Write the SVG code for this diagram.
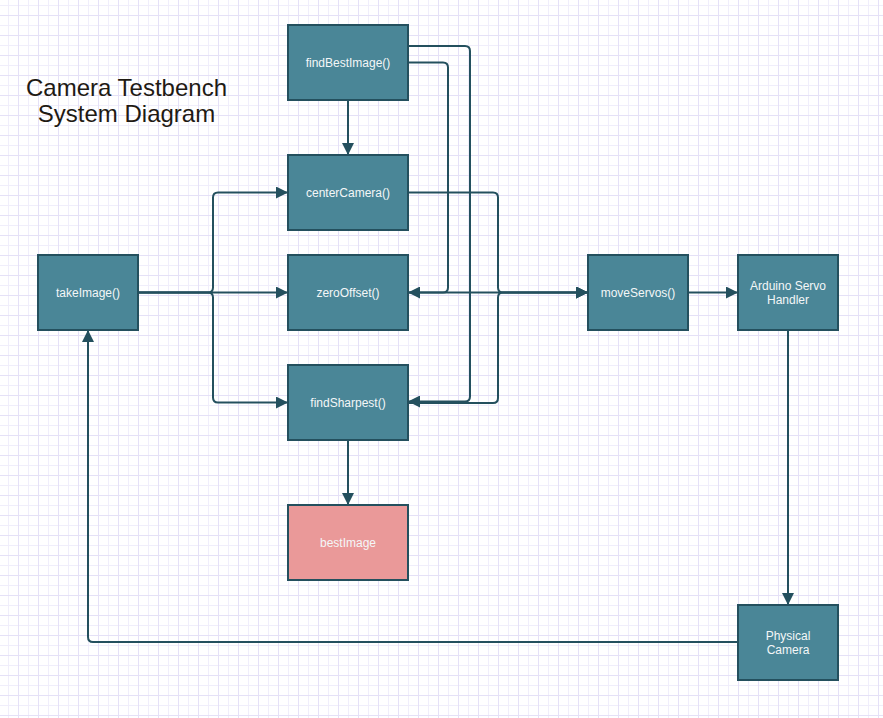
<svg xmlns="http://www.w3.org/2000/svg" width="883" height="718" viewBox="0 0 883 718">
  <style>
    .node rect { fill: #4a8697; stroke: #24505e; stroke-width: 2; }
    .node.pink rect { fill: #ea9999; }
    .node text { font-family: "Liberation Sans", Arial, sans-serif; font-size: 12px; fill: #f4f7f8; text-anchor: middle; }
    .title { font-family: "Liberation Sans", Arial, sans-serif; font-size: 24px; fill: #1f1a14; text-anchor: middle; }
    .edge { fill: none; stroke: #24505e; stroke-width: 2; stroke-linejoin: round; }
  </style>
  <defs>
    <pattern id="grid" patternUnits="userSpaceOnUse" x="8" y="5" width="20" height="20">
      <path d="M0.5 0V20M0 0.5H20" stroke="#f0eefb" stroke-width="1" fill="none"/>
      <path d="M10.5 0V20M0 10.5H20" stroke="#e5e1f7" stroke-width="1" fill="none"/>
    </pattern>
    <marker id="arrow" viewBox="0 0 12 12" refX="12" refY="6" markerWidth="12" markerHeight="12" markerUnits="userSpaceOnUse" orient="auto">
      <path d="M0 0L12 6L0 12Z" fill="#24505e"/>
    </marker>
  </defs>
  <rect width="883" height="718" fill="#ffffff"/>
  <rect width="883" height="718" fill="url(#grid)"/>

  <text class="title" x="126.5" y="96">Camera Testbench</text>
  <text class="title" x="126.5" y="122">System Diagram</text>

  <g id="connectors">
    <path class="edge" marker-end="url(#arrow)" d="M348 100V155"/>
    <path class="edge" marker-end="url(#arrow)" d="M408 46H465Q470 46 470 51V396.5Q470 401.5 465 401.5H408"/>
    <path class="edge" marker-end="url(#arrow)" d="M408 62.5H443Q448 62.5 448 67.5V287.5Q448 292.5 443 292.5H408"/>
    <path class="edge" marker-end="url(#arrow)" d="M408 192.5H493Q498 192.5 498 197.5V287.5Q498 292.5 503 292.5H588"/>
    <path class="edge" marker-end="url(#arrow)" d="M408 292.5H588"/>
    <path class="edge" marker-end="url(#arrow)" d="M408 403H493Q498 403 498 398V297.5Q498 292.5 503 292.5H588"/>
    <path class="edge" marker-end="url(#arrow)" d="M138 292.5H208Q213 292.5 213 287.5V197.5Q213 192.5 218 192.5H288"/>
    <path class="edge" marker-end="url(#arrow)" d="M138 292.5H288"/>
    <path class="edge" marker-end="url(#arrow)" d="M138 292.5H208Q213 292.5 213 297.5V397.5Q213 402.5 218 402.5H288"/>
    <path class="edge" marker-end="url(#arrow)" d="M348 440V505"/>
    <path class="edge" marker-end="url(#arrow)" d="M688 292.5H738"/>
    <path class="edge" marker-end="url(#arrow)" d="M788 330V605"/>
    <path class="edge" marker-end="url(#arrow)" d="M738 642H93Q88 642 88 637V330"/>
  </g>

  <g id="findBestImage" class="node">
    <rect x="288" y="25" width="120" height="75"/>
    <text x="348" y="66.5">findBestImage()</text>
  </g>
  <g id="centerCamera" class="node">
    <rect x="288" y="155" width="120" height="75"/>
    <text x="348" y="196.5">centerCamera()</text>
  </g>
  <g id="zeroOffset" class="node">
    <rect x="288" y="255" width="120" height="75"/>
    <text x="348" y="296.5">zeroOffset()</text>
  </g>
  <g id="findSharpest" class="node">
    <rect x="288" y="365" width="120" height="75"/>
    <text x="348" y="406.5">findSharpest()</text>
  </g>
  <g id="bestImage" class="node pink">
    <rect x="288" y="505" width="120" height="75"/>
    <text x="348" y="546.5">bestImage</text>
  </g>
  <g id="takeImage" class="node">
    <rect x="38" y="255" width="100" height="75"/>
    <text x="88" y="296.5">takeImage()</text>
  </g>
  <g id="moveServos" class="node">
    <rect x="588" y="255" width="100" height="75"/>
    <text x="638" y="296.5">moveServos()</text>
  </g>
  <g id="arduinoServoHandler" class="node">
    <rect x="738" y="255" width="100" height="75"/>
    <text x="788" y="289.5">Arduino Servo</text>
    <text x="788" y="303.5">Handler</text>
  </g>
  <g id="physicalCamera" class="node">
    <rect x="738" y="605" width="100" height="75"/>
    <text x="788" y="640">Physical</text>
    <text x="788" y="654">Camera</text>
  </g>
</svg>
